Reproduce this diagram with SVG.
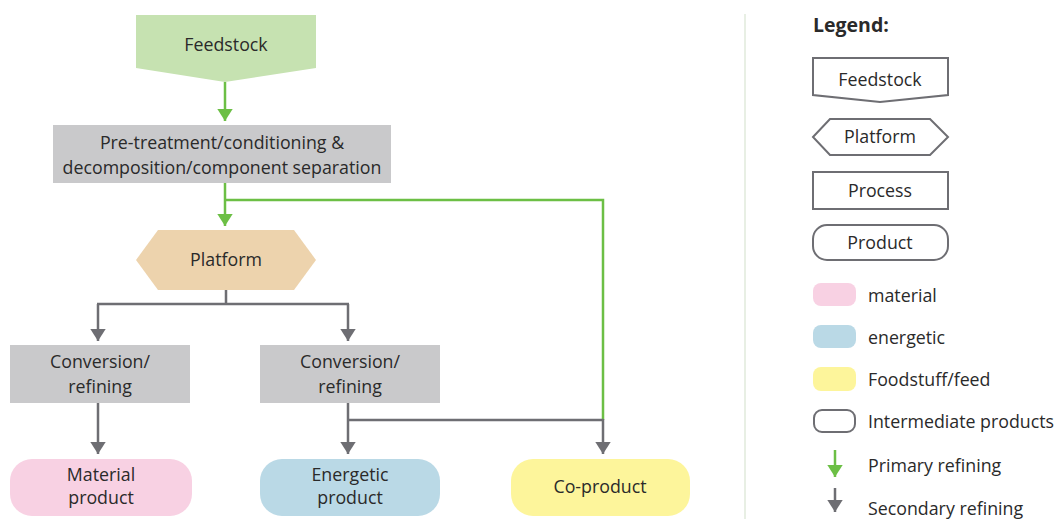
<svg xmlns="http://www.w3.org/2000/svg" width="1056" height="519" viewBox="0 0 1056 519">
  <style>
    text { font-family: "Open Sans", "Noto Sans", "DejaVu Sans", sans-serif; font-size: 17.8px; fill: #2a2a2a; text-anchor: middle; }
    .lg { text-anchor: start; }
    .title { font-weight: bold; font-size: 19.5px; text-anchor: start; }
    .green { stroke: #6cbf45; stroke-width: 2.5; fill: none; }
    .grey { stroke: #6e6e73; stroke-width: 2.5; fill: none; }
    .outline { fill: #ffffff; stroke: #6e6e73; stroke-width: 2; }
  </style>
  <defs>
    <marker id="arrowGreen" viewBox="0 0 10 10" refX="10" refY="5" markerWidth="5" markerHeight="6.4" markerUnits="strokeWidth" orient="auto" preserveAspectRatio="none">
      <path d="M0,0 L10,5 L0,10 z" fill="#6cbf45"/>
    </marker>
    <marker id="arrowGrey" viewBox="0 0 10 10" refX="10" refY="5" markerWidth="5" markerHeight="6.4" markerUnits="strokeWidth" orient="auto" preserveAspectRatio="none">
      <path d="M0,0 L10,5 L0,10 z" fill="#6e6e73"/>
    </marker>
  </defs>
  <rect width="1056" height="519" fill="#ffffff"/>

  <!-- connectors -->
  <g id="connectors">
    <path class="green" d="M225,82 V121" marker-end="url(#arrowGreen)"/>
    <path class="green" d="M225,183 V226" marker-end="url(#arrowGreen)"/>
    <path class="green" d="M225,200 H603 V420"/>
    <path class="grey" d="M226,290 V304 M97,304 H349"/>
    <path class="grey" d="M98,304 V341" marker-end="url(#arrowGrey)"/>
    <path class="grey" d="M348,304 V341" marker-end="url(#arrowGrey)"/>
    <path class="grey" d="M98,403 V454" marker-end="url(#arrowGrey)"/>
    <path class="grey" d="M348,403 V454" marker-end="url(#arrowGrey)"/>
    <path class="grey" d="M348,420 H603"/>
    <path class="grey" d="M603,419 V454" marker-end="url(#arrowGrey)"/>
  </g>

  <g id="feedstock">
    <polygon points="136,15 316,15 316,68 225,82 136,68" fill="#c6e2b1"/>
    <text x="226" y="51">Feedstock</text>
  </g>
  <g id="pretreatment">
    <rect x="53" y="125" width="338" height="58" fill="#c9c9cb"/>
    <text x="222" y="149">Pre-treatment/conditioning &amp;</text>
    <text x="222" y="174">decomposition/component separation</text>
  </g>
  <g id="platform">
    <polygon points="136,260 158,230 294,230 316,260 294,290 158,290" fill="#edd3ad"/>
    <text x="226" y="266">Platform</text>
  </g>
  <g id="conversion-left">
    <rect x="10" y="345" width="180" height="58" fill="#c9c9cb"/>
    <text x="100" y="368">Conversion/</text>
    <text x="100" y="393">refining</text>
  </g>
  <g id="conversion-right">
    <rect x="260" y="345" width="180" height="58" fill="#c9c9cb"/>
    <text x="350" y="368">Conversion/</text>
    <text x="350" y="393">refining</text>
  </g>
  <g id="material-product">
    <rect x="10" y="459" width="182" height="57" rx="22" fill="#f8d1e3"/>
    <text x="101" y="481">Material</text>
    <text x="101" y="504">product</text>
  </g>
  <g id="energetic-product">
    <rect x="260" y="459" width="180" height="57" rx="22" fill="#bad9e6"/>
    <text x="350" y="481">Energetic</text>
    <text x="350" y="504">product</text>
  </g>
  <g id="co-product">
    <rect x="511" y="459" width="179" height="57" rx="22" fill="#fdf59b"/>
    <text x="600" y="493">Co-product</text>
  </g>

  <!-- divider -->
  <line x1="745" y1="14" x2="745" y2="519" stroke="#e8efe4" stroke-width="2"/>

  <!-- legend -->
  <g id="legend">
    <text class="title" x="813" y="32">Legend:</text>
    <polygon class="outline" points="813,58 948,58 948,95 880,102 813,95"/>
    <text x="880" y="86">Feedstock</text>
    <polygon class="outline" points="813,137 830,119 930,119 948,137 930,155 830,155"/>
    <text x="880" y="143">Platform</text>
    <rect class="outline" x="813" y="172" width="135" height="37"/>
    <text x="880" y="197">Process</text>
    <rect class="outline" x="813" y="225" width="135" height="35" rx="14"/>
    <text x="880" y="249">Product</text>

    <rect x="813" y="283" width="43" height="23" rx="8" fill="#f8d1e3"/>
    <text class="lg" x="868" y="302">material</text>
    <rect x="813" y="325" width="43" height="23" rx="8" fill="#bad9e6"/>
    <text class="lg" x="868" y="344">energetic</text>
    <rect x="813" y="367" width="43" height="24" rx="8" fill="#fdf59b"/>
    <text class="lg" x="868" y="386">Foodstuff/feed</text>
    <rect class="outline" x="814" y="410" width="41" height="22" rx="8"/>
    <text class="lg" x="868" y="428">Intermediate products</text>
    <path class="green" d="M835,450 V477" marker-end="url(#arrowGreen)"/>
    <text class="lg" x="868" y="472">Primary refining</text>
    <path class="grey" d="M835,488 V512" marker-end="url(#arrowGrey)"/>
    <text class="lg" x="868" y="515">Secondary refining</text>
  </g>
</svg>
